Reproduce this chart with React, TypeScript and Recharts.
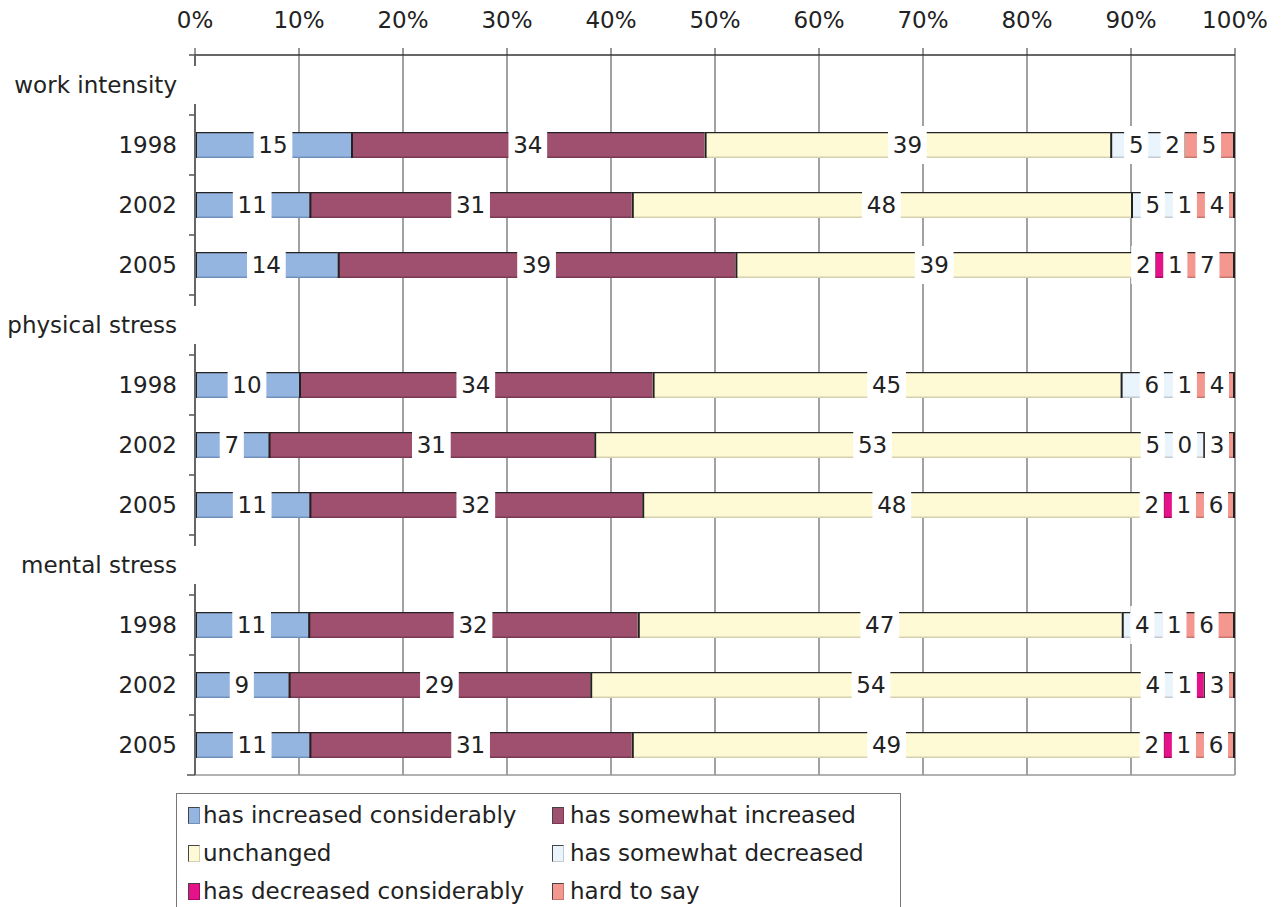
import { Bar, BarChart, CartesianGrid, LabelList, XAxis, YAxis } from 'recharts';

const FONT = '"DejaVu Sans", Verdana, sans-serif';

const GROUPS = ['work intensity', 'physical stress', 'mental stress'];
const YEARS = ['1998', '2002', '2005'];

// one value per group/year: WI 98, 02, 05, PS 98, 02, 05, MS 98, 02, 05
const increasedConsiderably = [15, 11, 14, 10, 7, 11, 11, 9, 11];
const somewhatIncreased = [34, 31, 39, 34, 31, 32, 32, 29, 31];
const unchanged = [39, 48, 39, 45, 53, 48, 47, 54, 49];
const somewhatDecreased = [5, 5, 2, 6, 5, 2, 4, 4, 2];
const decreasedConsiderably = [2, 1, 1, 1, 0, 1, 1, 1, 1];
const hardToSay = [5, 4, 7, 4, 3, 6, 6, 3, 6];

const X_TICKS = [0, 0.1, 0.2, 0.3, 0.4, 0.5, 0.6, 0.7, 0.8, 0.9, 1];

const SERIES = [
  { key: 'inc', name: 'has increased considerably', values: increasedConsiderably, fill: '#95B5E1', edge: '#7190BE' },
  { key: 'someInc', name: 'has somewhat increased', values: somewhatIncreased, fill: '#A0506F', edge: '#7A3853' },
  { key: 'same', name: 'unchanged', values: unchanged, fill: '#FFFAD6', edge: '#D6D0AE' },
  { key: 'someDec', name: 'has somewhat decreased', values: somewhatDecreased, fill: '#EAF4FC', edge: '#C2CAD4' },
  { key: 'dec', name: 'has decreased considerably', values: decreasedConsiderably, fill: '#E5128A', edge: '#A80A63' },
  { key: 'hard', name: 'hard to say', values: hardToSay, fill: '#F4978E', edge: '#C8766E' },
];

// layout
const CHART_W = 1281;
const CHART_H = 907;
const Y_AXIS_W = 195;
const MARGIN = { top: 0, right: 46, bottom: 132, left: 0 };
const PLOT_W = CHART_W - MARGIN.left - MARGIN.right - Y_AXIS_W;
const LABEL_GAP = 8;

type Row = { key: string; label: string; header: boolean; [k: string]: string | number | boolean };

const data: Row[] = GROUPS.flatMap((g, gi) => [
  { key: g, label: g, header: true },
  ...YEARS.map((yr, yi) => {
    const row: Row = { key: `${g} ${yr}`, label: yr, header: false };
    SERIES.forEach((s) => {
      row[s.key] = s.values[gi * 3 + yi];
    });
    return row;
  }),
]);

const rowByKey = new Map(data.map((r) => [r.key, r]));

const labelWidth = (v: unknown) => String(v).length * 14.6 + 9.5;

// labels on narrow neighbouring segments get pushed right, then back left from the end of the bar
function labelShifts(row: Row): Record<string, number> {
  const out: Record<string, number> = {};
  if (row.header) return out;
  const vals = SERIES.map((s) => Number(row[s.key]));
  const total = vals.reduce((a, b) => a + b, 0);
  let acc = 0;
  const items = SERIES.map((s, i) => {
    const start = acc / total;
    acc += vals[i];
    const c = ((start + acc / total) / 2) * PLOT_W;
    return { key: s.key, c, w: labelWidth(vals[i]), p: c };
  });
  for (let i = 1; i < items.length; i++) {
    const a = items[i - 1];
    const b = items[i];
    b.p = Math.max(b.c, a.p + a.w / 2 + LABEL_GAP + b.w / 2);
  }
  for (let i = items.length - 1; i >= 0; i--) {
    const b = items[i];
    const lim = i === items.length - 1 ? PLOT_W - 6 - b.w / 2 : items[i + 1].p - items[i + 1].w / 2 - LABEL_GAP - b.w / 2;
    b.p = Math.min(b.p, lim);
  }
  items.forEach((it) => {
    out[it.key] = it.p - it.c;
  });
  return out;
}

const shifts = data.map(labelShifts);

function makeShape(edge: string, closeRight: boolean) {
  return (props: any) => {
    const { x, y, width, height, fill, payload } = props;
    if (!payload || payload.header || !Number.isFinite(width)) return null;
    const w = Math.max(width, 0);
    return (
      <g>
        {w > 0 && <rect x={x} y={y} width={w} height={height} fill={fill} />}
        {w > 0 && (
          <line x1={x} x2={x + w} y1={y + height - 0.75} y2={y + height - 0.75} stroke={edge} strokeWidth={1.5} />
        )}
        <line x1={x} x2={x + Math.max(w, 3)} y1={y + 0.6} y2={y + 0.6} stroke="#222" strokeWidth={1.2} />
        <line x1={x + 1} x2={x + 1} y1={y} y2={y + height} stroke="#222" strokeWidth={2} />
        {closeRight && <line x1={x + w - 1} x2={x + w - 1} y1={y} y2={y + height} stroke="#222" strokeWidth={2} />}
      </g>
    );
  };
}

function SegmentLabel(props: any) {
  const { value, index, seriesKey } = props;
  const vb = props.viewBox ?? props;
  const { x, y, width, height } = vb;
  if (value == null || value === '' || !Number.isFinite(x)) return null;
  const text = String(value);
  const boxW = labelWidth(text);
  const cx = x + width / 2 + (shifts[index]?.[seriesKey] ?? 0);
  const cy = y + height / 2;
  return (
    <g>
      <rect x={cx - boxW / 2} y={cy - 19} width={boxW} height={38} fill="#fff" />
      <text x={cx} y={cy + 8} textAnchor="middle" fontSize={23} fill="#222" fontFamily={FONT}>
        {text}
      </text>
    </g>
  );
}

function CategoryTick(props: any) {
  const { x, y, payload, index, visibleTicksCount } = props;
  const row = rowByKey.get(payload.value);
  const half = 30;
  const last = index === (visibleTicksCount ?? data.length) - 1;
  return (
    <g>
      {row?.header && <rect x={x - 4} y={y - 19} width={8} height={38} fill="#fff" />}
      <line x1={x - 6} x2={x} y1={y - half} y2={y - half} stroke="#555" strokeWidth={1.5} />
      {last && <line x1={x - 8} x2={x} y1={y + half} y2={y + half} stroke="#555" strokeWidth={1.5} />}
      <text x={x - 18} y={y + 8} textAnchor="end" fontSize={23} fill="#222" fontFamily={FONT}>
        {row?.label}
      </text>
    </g>
  );
}

export default function App() {
  return (
    <div
      style={{
        position: 'absolute',
        left: 0,
        top: 0,
        width: CHART_W,
        height: CHART_H,
        background: '#fff',
        fontFamily: FONT,
        overflow: 'hidden',
      }}
    >
      <BarChart
        width={CHART_W}
        height={CHART_H}
        data={data}
        layout="vertical"
        stackOffset="expand"
        barSize={26}
        margin={MARGIN}
        style={{ fontFamily: FONT }}
      >
        <CartesianGrid horizontal={false} stroke="#444" strokeWidth={1} />
        <CartesianGrid
          vertical={false}
          stroke="#999"
          strokeWidth={1.5}
          horizontalCoordinatesGenerator={({ offset }: any) => [offset.top + offset.height]}
        />
        <XAxis
          type="number"
          orientation="top"
          domain={[0, 1]}
          ticks={X_TICKS}
          allowDataOverflow
          height={55}
          tickSize={7}
          tickMargin={20}
          tickFormatter={(v: number) => `${Math.round(v * 100)}%`}
          tick={{ fill: '#222', fontSize: 23, fontFamily: FONT }}
          tickLine={{ stroke: '#333' }}
          axisLine={{ stroke: '#333', strokeWidth: 1.5 }}
        />
        <YAxis
          type="category"
          dataKey="key"
          width={Y_AXIS_W}
          interval={0}
          tickSize={0}
          tickMargin={0}
          tickLine={false}
          axisLine={{ stroke: '#666', strokeWidth: 2 }}
          tick={<CategoryTick />}
        />
        {SERIES.map((s, i) => (
          <Bar
            key={s.key}
            dataKey={s.key}
            name={s.name}
            stackId="a"
            fill={s.fill}
            isAnimationActive={false}
            shape={makeShape(s.edge, i === SERIES.length - 1)}
          >
            <LabelList dataKey={s.key} content={(p: any) => <SegmentLabel {...p} seriesKey={s.key} />} />
          </Bar>
        ))}
      </BarChart>
      <div
        style={{
          position: 'absolute',
          left: 176,
          top: 793,
          width: 725,
          height: 140,
          border: '1px solid #777',
          boxSizing: 'border-box',
          color: '#222',
          fontSize: 23,
        }}
      >
        {SERIES.map((s, i) => (
          <div
            key={s.key}
            style={{
              position: 'absolute',
              left: i % 2 === 0 ? 11 : 375,
              top: 6 + Math.floor(i / 2) * 38,
              height: 30,
              display: 'flex',
              alignItems: 'center',
              whiteSpace: 'nowrap',
            }}
          >
            <span
              style={{
                display: 'inline-block',
                width: 10,
                height: 15,
                background: s.fill,
                border: '1px solid #444',
                borderRightColor: s.edge,
                borderBottomColor: s.edge,
                marginRight: i % 2 === 0 ? 3 : 6,
              }}
            />
            <span>{s.name}</span>
          </div>
        ))}
      </div>
    </div>
  );
}
